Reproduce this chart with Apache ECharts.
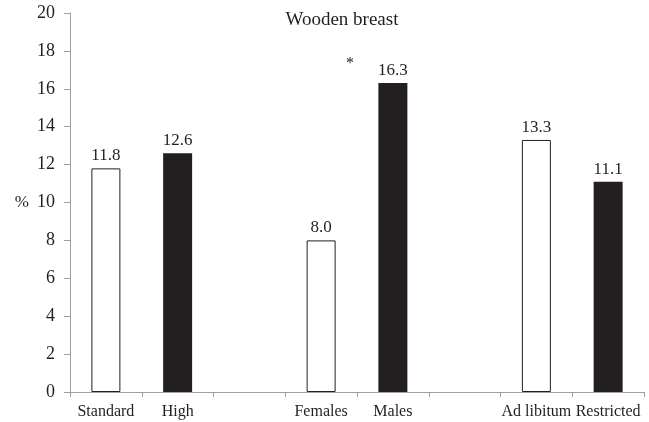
<!DOCTYPE html>
<html>
<head>
<meta charset="utf-8">
<script src="https://cdn.jsdelivr.net/npm/echarts@6/dist/echarts.min.js"></script>
<style>html,body{margin:0;padding:0;background:#fff;}#c{width:649px;height:422px;}</style>
</head>
<body>
<div id="c"></div>
<script>
const categories = ['Standard', 'High', '', 'Females', 'Males', '', 'Ad libitum', 'Restricted'];
const whiteValues = [11.8, null, null, 8.0, null, null, 13.3, null];
const blackValues = [null, 12.6, null, null, 16.3, null, null, 11.1];
const yTicks = [0, 2, 4, 6, 8, 10, 12, 14, 16, 18, 20];

const font = 'Liberation Serif, Times New Roman, serif';
const chart = echarts.init(document.getElementById('c'));
chart.setOption({
  animation: false,
  backgroundColor: '#fff',
  title: {
    text: 'Wooden breast', left: 337, top: 6, textAlign: 'center',
    textStyle: { fontFamily: font, fontWeight: 'normal', fontSize: 19, color: '#231f20' }
  },
  grid: { left: 70, right: 5, top: 13, bottom: 30 },
  xAxis: {
    type: 'category', data: categories,
    axisLine: { lineStyle: { color: '#a0a0a0' } },
    axisTick: { show: true, length: 5, alignWithLabel: false, lineStyle: { color: '#a0a0a0' } },
    axisLabel: { fontFamily: font, fontSize: 16, color: '#231f20', margin: 12, interval: 0 }
  },
  yAxis: {
    type: 'value', min: yTicks[0], max: yTicks[yTicks.length - 1], interval: 2,
    name: '%', nameLocation: 'middle', nameGap: 41, nameRotate: 0,
    nameTextStyle: { fontFamily: font, fontSize: 17, color: '#231f20' },
    axisLine: { show: true, lineStyle: { color: '#a0a0a0' } },
    axisTick: { show: true, length: 6, inside: false, lineStyle: { color: '#a0a0a0' } },
    splitLine: { show: false },
    axisLabel: { fontFamily: font, fontSize: 18, color: '#231f20', margin: 15 }
  },
  series: [
    {
      type: 'bar', data: whiteValues, barWidth: 29, barGap: '-100%',
      itemStyle: { color: '#fff', borderColor: '#231f20', borderWidth: 1 },
      label: { show: true, position: 'top', distance: 4, fontFamily: font, fontSize: 17, color: '#231f20',
        formatter: p => p.value == null ? '' : p.value.toFixed(1) }
    },
    {
      type: 'bar', data: blackValues, barWidth: 29, barGap: '-100%',
      itemStyle: { color: '#231f20' },
      label: { show: true, position: 'top', distance: 4, fontFamily: font, fontSize: 17, color: '#231f20',
        formatter: p => p.value == null ? '' : p.value.toFixed(1) }
    }
  ],
  graphic: [
    { type: 'text', left: 346, top: 56, style: { text: '*', fontFamily: font, fontSize: 16, fill: '#231f20' } }
  ]
});
</script>
</body>
</html>
